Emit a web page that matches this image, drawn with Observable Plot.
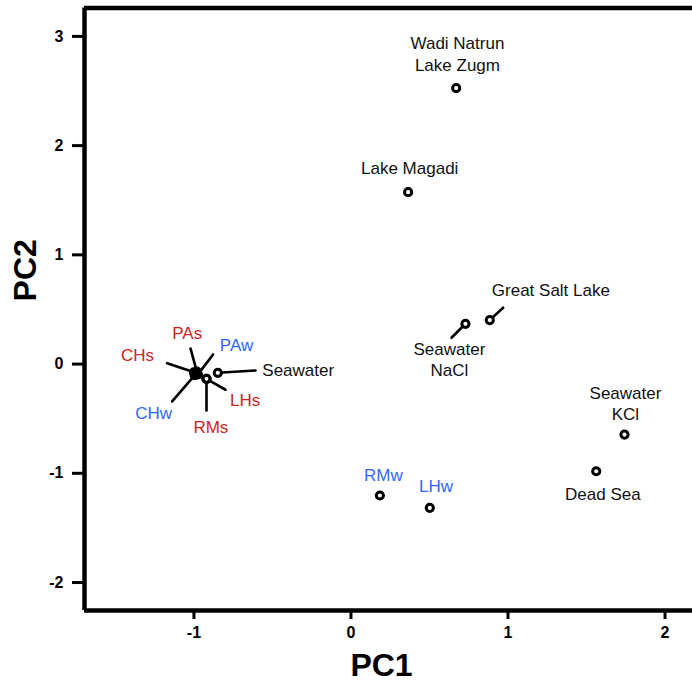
<!DOCTYPE html>
<html>
<head>
<meta charset="utf-8">
<script src="https://cdn.jsdelivr.net/npm/d3@7"></script>
<script src="https://cdn.jsdelivr.net/npm/@observablehq/plot@0.6"></script>
<style>
  html, body { margin: 0; padding: 0; background: white; }
  #chart svg { display: block; }
</style>
</head>
<body>
<div id="chart"></div>
<script>
// ---- data ----
const names  = ["Wadi Natrun Lake Zugm", "Lake Magadi", "Great Salt Lake", "Seawater NaCl", "Seawater KCl", "Dead Sea", "RMw", "LHw", "Seawater", "CHs", "PAs", "PAw", "CHw", "LHs", "RMs"];
const labels = ["Wadi Natrun\nLake Zugm", "Lake Magadi", "Great Salt Lake", "Seawater\nNaCl", "Seawater\nKCl", "Dead Sea", "RMw", "LHw", "Seawater", "CHs", "PAs", "PAw", "CHw", "LHs", "RMs"];
const groups = ["ref", "ref", "ref", "ref", "ref", "ref", "w", "w", "ref", "s", "s", "w", "w", "s", "s"];
const pc1    = [0.670, 0.364, 0.884, 0.729, 1.742, 1.562, 0.184, 0.502, -0.848, -1.000, -0.982, -0.975, -0.995, -0.920, -0.920];
const pc2    = [2.527, 1.574, 0.403, 0.369, -0.645, -0.981, -1.203, -1.316, -0.080, -0.075, -0.068, -0.095, -0.102, -0.135, -0.135];
// label anchor positions (data units)
const labelPC1 = [0.678, 0.374, 1.273, 0.627, 1.748, 1.604, 0.206, 0.541, -0.336, -1.360, -1.043, -0.729, -1.257, -0.674, -0.892];
const labelPC2 = [2.846, 1.798, 0.683, 0.053, -0.354, -1.179, -1.011, -1.112, -0.049, 0.094, 0.292, 0.186, -0.440, -0.318, -0.571];
// leader line end points (data units), null where there is none
const leaderPC1 = [null, null, 0.969, 0.640, null, null, null, null, -0.608, -1.171, -1.022, -0.878, -1.139, -0.799, -0.920];
const leaderPC2 = [null, null, 0.516, 0.241, null, null, null, null, -0.059, 0.008, 0.143, 0.088, -0.342, -0.235, -0.425];

const xTicks = [-1, 0, 1, 2];
const yTicks = [-2, -1, 0, 1, 2, 3];
const xDomain = [-1.697, 2.175];
const yDomain = [-2.256, 3.26];

const points = names.map((n, i) => ({
  name: n, label: labels[i], group: groups[i],
  x: pc1[i], y: pc2[i], lx: labelPC1[i], ly: labelPC2[i],
  ex: leaderPC1[i], ey: leaderPC2[i]
}));
const leaders = points.filter(d => d.ex != null);

const font = "'Liberation Sans', Arial, Helvetica, sans-serif";
const fmt = d => String(d); // plain hyphen minus, integers

const chart = Plot.plot({
  width: 692,
  height: 685,
  marginLeft: 84,
  marginRight: 0,
  marginTop: 7.5,
  marginBottom: 75,
  x: {domain: xDomain},
  y: {domain: yDomain},
  color: {domain: ["ref", "s", "w"], range: ["#111111", "#cc2229", "#3366ff"]},
  style: {fontFamily: font, background: "white", overflow: "visible"},
  marks: [
    Plot.axisX(xTicks, {tickSize: 9, tickPadding: 7, strokeWidth: 3, fontSize: 16, fontWeight: "bold", label: null, color: "black", tickFormat: fmt}),
    Plot.axisY(yTicks, {tickSize: 12, tickPadding: 9, strokeWidth: 3, fontSize: 16, fontWeight: "bold", label: null, color: "black", tickFormat: fmt}),
    Plot.ruleX([xDomain[0]], {stroke: "black", strokeWidth: 4.5}),
    Plot.ruleY([yDomain[0], yDomain[1]], {stroke: "black", strokeWidth: 4.5}),
    Plot.arrow(leaders, {x1: "x", y1: "y", x2: "ex", y2: "ey", stroke: "black", strokeWidth: 2.6, headLength: 0, insetStart: 4.5, insetEnd: 0}),
    Plot.dot(points, {x: "x", y: "y", r: 3.6, stroke: "black", strokeWidth: 3, fill: "none"}),
    Plot.text(points, {x: "lx", y: "ly", text: "label", fill: "group", fontSize: 17, lineHeight: 1.24, textAnchor: "middle"}),
    Plot.text(["PC1"], {frameAnchor: "bottom", textAnchor: "middle", lineAnchor: "middle", dx: -7, dy: 55, fontSize: 32, fontWeight: "bold", fill: "black"}),
    Plot.text(["PC2"], {frameAnchor: "left", textAnchor: "middle", lineAnchor: "middle", rotate: -90, dx: -59, dy: -39, fontSize: 32, fontWeight: "bold", fill: "black"})
  ]
});
document.getElementById("chart").appendChild(chart);
</script>
</body>
</html>
